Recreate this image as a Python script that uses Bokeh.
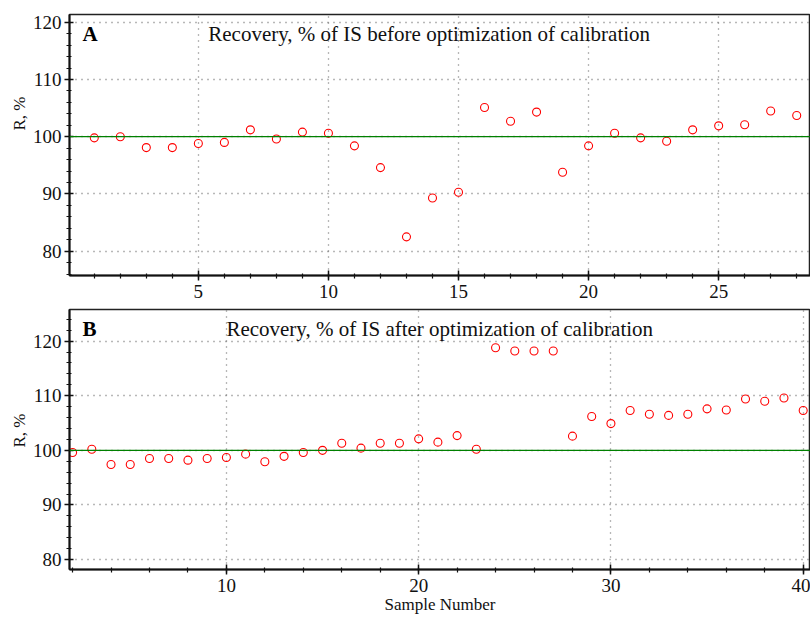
from bokeh.plotting import figure
from bokeh.layouts import column
from bokeh.models import Span, Label, SingleIntervalTicker, Range1d, Title
from bokeh.embed import file_html
from bokeh.resources import INLINE

# ---- data ----
samples_a = list(range(1, 29))
recovery_a = [99.8, 100.0, 98.1, 98.1, 98.8, 99.0, 101.2, 99.6, 100.8, 100.6,
              98.4, 94.6, 82.5, 89.3, 90.3, 105.1, 102.7, 104.3, 93.8, 98.4,
              100.6, 99.8, 99.2, 101.2, 101.9, 102.1, 104.5, 103.7]

samples_b = list(range(2, 41))
recovery_b = [99.6, 100.2, 97.4, 97.4, 98.5, 98.5, 98.2, 98.5, 98.7, 99.3,
              97.9, 98.9, 99.6, 100.0, 101.3, 100.4, 101.3, 101.3, 102.1, 101.5,
              102.7, 100.2, 118.8, 118.2, 118.2, 118.2, 102.6, 106.2, 104.9, 107.3,
              106.6, 106.4, 106.6, 107.6, 107.4, 109.4, 109.0, 109.6, 107.3]

target = 100
title_a = "Recovery, % of IS before optimization of calibration"
title_b = "Recovery, % of IS after optimization of calibration"
ylabel = "R, %"
xlabel = "Sample Number"

FONT = "Liberation Serif"


def style(p, xint, xminor):
    p.outline_line_color = "#222222"
    p.outline_line_width = 1.5
    p.background_fill_color = "white"
    p.border_fill_color = "white"
    xa = p.below[0]
    ya = p.left[0]
    for ax in (xa, ya):
        ax.axis_line_color = "#111111"
        ax.axis_line_width = 2
        ax.major_tick_line_color = "#111111"
        ax.minor_tick_line_color = "#111111"
        ax.major_tick_line_width = 1.5
        ax.minor_tick_line_width = 1.2
        ax.major_label_text_font = FONT
        ax.major_label_text_font_size = "19px"
        ax.major_label_text_color = "#111111"
        ax.axis_label_text_font = FONT
        ax.axis_label_text_font_style = "normal"
        ax.axis_label_text_font_size = "17px"
        ax.axis_label_text_color = "#111111"
    xa.ticker = SingleIntervalTicker(interval=xint, num_minor_ticks=xminor)
    ya.ticker = SingleIntervalTicker(interval=10, num_minor_ticks=5)
    xa.major_tick_in = 5
    xa.major_tick_out = 5
    xa.minor_tick_in = 2
    xa.minor_tick_out = 3
    ya.major_tick_in = 4
    ya.major_tick_out = 5
    ya.minor_tick_in = 2
    ya.minor_tick_out = 3
    xa.major_label_standoff = 4
    ya.major_label_standoff = 3
    for g in (p.xgrid[0], p.ygrid[0]):
        g.grid_line_color = "#707070"
        g.grid_line_dash = "1 5"
        g.grid_line_width = 1.3


def ylab(p, offset):
    t = Title(text=ylabel, align="left", offset=offset, standoff=2,
              text_font=FONT, text_font_style="normal", text_font_size="17px",
              text_color="#111111")
    p.add_layout(t, "left")


# ---- top panel ----
p1 = figure(width=810, height=308, output_backend="svg", toolbar_location=None,
            x_range=Range1d(0.047, 28.53), y_range=Range1d(75.75, 121.35),
            min_border_left=69, min_border_right=0, min_border_top=14, min_border_bottom=33)
style(p1, 5, 5)
ylab(p1, 145)
p1.add_layout(Span(location=target, dimension="width", line_color="#008000", line_width=1.3))
p1.scatter(samples_a, recovery_a, size=8, marker="circle", fill_color=None,
           line_color="red", line_width=1.1)
p1.add_layout(Label(x=0.55, y=117.9, text="A", text_font=FONT, text_font_style="bold",
                    text_font_size="21px", text_baseline="alphabetic", text_color="black"))
p1.add_layout(Label(x=5.38, y=117.9, text=title_a, text_font=FONT,
                    text_font_size="21px", text_baseline="alphabetic", text_color="#111111"))

# ---- bottom panel ----
p2 = figure(width=810, height=310, output_backend="svg", toolbar_location=None,
            x_range=Range1d(1.84, 40.38), y_range=Range1d(78.17, 125.8),
            min_border_left=69, min_border_right=0, min_border_top=1, min_border_bottom=49)
style(p2, 10, 5)
ylab(p2, 122)
p2.below[0].axis_label = xlabel
p2.below[0].axis_label_standoff = 0
p2.add_layout(Span(location=target, dimension="width", line_color="#008000", line_width=1.3))
p2.scatter(samples_b, recovery_b, size=8, marker="circle", fill_color=None,
           line_color="red", line_width=1.1)
p2.add_layout(Label(x=2.52, y=122.3, text="B", text_font=FONT, text_font_style="bold",
                    text_font_size="21px", text_baseline="alphabetic", text_color="black"))
p2.add_layout(Label(x=10.0, y=122.3, text=title_b, text_font=FONT,
                    text_font_size="21px", text_baseline="alphabetic", text_color="#111111"))

layout = column(p1, p2, spacing=0)
open("out.html", "w").write(file_html(layout, INLINE))
